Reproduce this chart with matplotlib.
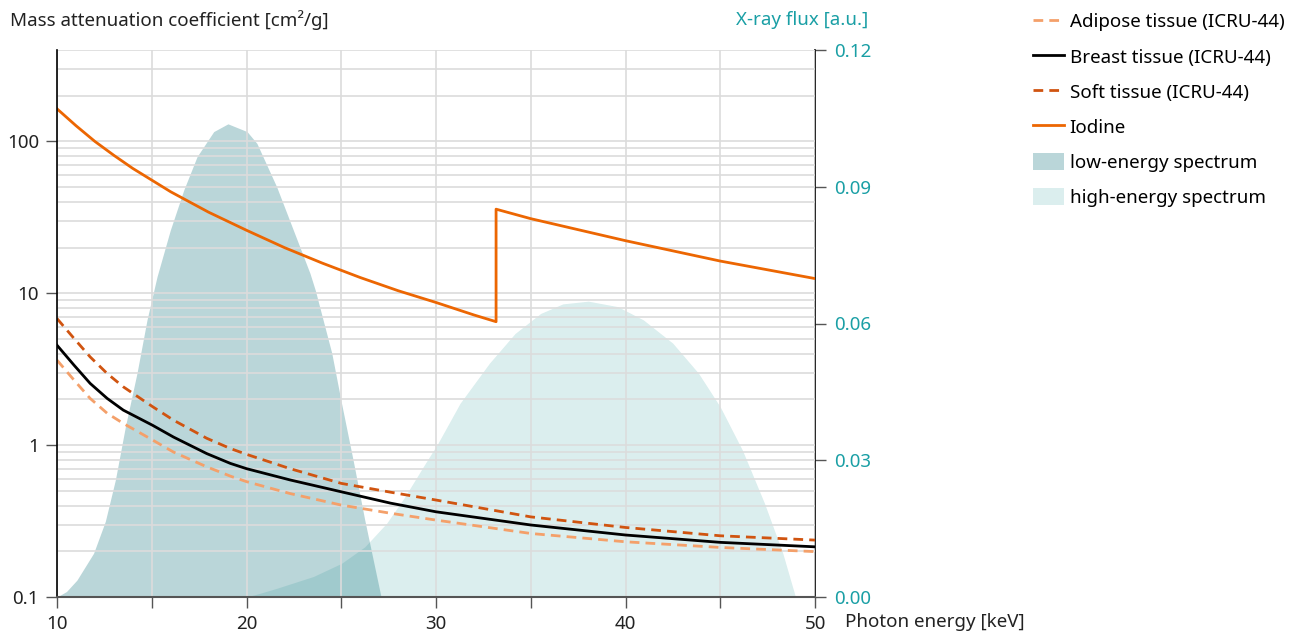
import matplotlib
matplotlib.use("Agg")
import matplotlib.pyplot as plt
from matplotlib.ticker import MultipleLocator, LogLocator, NullFormatter
import numpy as np

plt.rcParams['font.family'] = ['Noto Sans', 'DejaVu Sans']

# ---------------- data ----------------
energy_tissue = [10, 10.9, 11.75, 12.65, 13.5, 15.05, 16.15, 17.9, 19.15, 20, 22.3, 25, 27.6, 30, 35, 40, 45, 50]
adipose = [3.63, 2.68, 2.03, 1.62, 1.39, 1.08, 0.90, 0.72, 0.625, 0.575, 0.48, 0.403, 0.356, 0.321, 0.262, 0.231, 0.212, 0.199]
breast = [4.55, 3.36, 2.55, 2.03, 1.70, 1.35, 1.13, 0.88, 0.758, 0.70, 0.59, 0.493, 0.415, 0.364, 0.298, 0.256, 0.229, 0.214]
soft = [6.82, 5.04, 3.81, 2.96, 2.42, 1.79, 1.46, 1.11, 0.95, 0.87, 0.70, 0.56, 0.49, 0.435, 0.337, 0.287, 0.253, 0.237]

energy_iodine = [10, 11, 12, 13, 14, 16, 18, 20, 22, 24, 26, 28, 30, 32, 33.17, 33.17, 35, 40, 45, 50]
iodine = [164, 127, 100, 81, 66.4, 46.6, 34.2, 26.0, 20.0, 15.8, 12.7, 10.4, 8.7, 7.2, 6.5, 35.8, 31.0, 22.2, 16.3, 12.5]

energy_low = [10, 10.5, 11.05, 11.93, 12.55, 13.08, 13.61, 14.22, 14.75, 15.28, 15.98, 16.69, 17.39, 18.27,
              19.02, 20.03, 20.55, 21.59, 22.47, 23.35, 23.63, 24.5, 24.98, 25.66, 26.24, 27.1]
flux_low = [0, 0.0012, 0.0037, 0.0096, 0.0166, 0.0257, 0.0374, 0.0491, 0.0608, 0.0703, 0.0805, 0.0893, 0.0966, 0.1021,
            0.1038, 0.1021, 0.0995, 0.090, 0.0805, 0.071, 0.0673, 0.0535, 0.0432, 0.0293, 0.0169, 0]

energy_high = [20, 20.7, 21.59, 23.53, 25.02, 26.24, 27.4, 28.36, 29.33, 30.1, 31.27, 32.82, 34.17, 35.52, 36.69,
               38.04, 39.59, 40.94, 42.49, 43.85, 45.0, 46.17, 47.33, 48.3, 48.97]
flux_high = [0, 0.0008, 0.0019, 0.0045, 0.0074, 0.011, 0.0162, 0.022, 0.0286, 0.0337, 0.0425, 0.0513, 0.0578, 0.0622,
             0.0643, 0.0649, 0.0637, 0.0608, 0.0557, 0.0491, 0.0417, 0.0322, 0.0206, 0.0096, 0]

x_ticks = [10, 20, 30, 40, 50]
y_left_ticks = [0.1, 1, 10, 100]
y_left_labels = ['0.1', '1', '10', '100']
y_right_ticks = [0.0, 0.03, 0.06, 0.09, 0.12]

# ---------------- style ----------------
c_adipose = '#f4a06a'
c_breast = '#000000'
c_soft = '#d05410'
c_iodine = '#ec6602'
c_low = '#bad6d9'
c_high = '#078a8a'
c_teal = '#1a9fa5'
grid_c = '#dcdcdc'
fs = 13.5

fig = plt.figure(figsize=(13.04, 6.34), dpi=100)
ax = fig.add_axes([57/1304, 37/634, (815-57)/1304, (597-50)/634])
ax2 = ax.twinx()
ax.set_zorder(ax2.get_zorder() + 1)
ax.patch.set_visible(False)

# spectra on right axis
ax2.fill_between(energy_low, flux_low, 0, color=c_low, lw=0, label='low-energy spectrum')
ax2.fill_between(energy_high, flux_high, 0, color=c_high, alpha=0.145, lw=0, label='high-energy spectrum')
ax2.set_ylim(0, 0.12)
ax2.set_yticks(y_right_ticks)
ax2.set_yticklabels([f'{v:.2f}' for v in y_right_ticks])
ax2.tick_params(axis='y', colors='#555555', labelcolor=c_teal, labelsize=fs, length=8, width=1, pad=6)
for s in ['top', 'left', 'bottom']:
    ax2.spines[s].set_visible(False)
ax2.spines['right'].set_color('black')
ax2.spines['right'].set_linewidth(1.2)

# attenuation on left axis
ax.plot(energy_tissue, adipose, color=c_adipose, lw=2, ls=(0, (3.5, 2.2)), label='Adipose tissue (ICRU-44)')
ax.plot(energy_tissue, breast, color=c_breast, lw=2, label='Breast tissue (ICRU-44)')
ax.plot(energy_tissue, soft, color=c_soft, lw=2, ls=(0, (3.5, 2.2)), label='Soft tissue (ICRU-44)')
ax.plot(energy_iodine, iodine, color=c_iodine, lw=2, label='Iodine')

ax.set_yscale('log')
ax.set_ylim(0.1, 400)
ax.set_xlim(10, 50)
ax.set_yticks(y_left_ticks)
ax.set_yticklabels(y_left_labels)
ax.yaxis.set_minor_locator(LogLocator(base=10, subs=np.arange(2, 10)))
ax.yaxis.set_minor_formatter(NullFormatter())
ax.set_xticks(x_ticks)
ax.set_xticklabels([str(v) for v in x_ticks])
ax.xaxis.set_minor_locator(MultipleLocator(5))

ax.grid(True, which='both', color=grid_c, lw=1.2)
ax.tick_params(axis='both', which='major', length=8, width=1, colors='#555555', labelcolor='#222222', labelsize=fs, pad=5)
ax.tick_params(axis='x', which='minor', length=8, width=1, colors='#555555')
ax.tick_params(axis='y', which='minor', length=0)

ax.spines['top'].set_visible(False)
ax.spines['right'].set_visible(False)
ax.spines['left'].set_color('black')
ax.spines['left'].set_linewidth(1.2)
ax.spines['bottom'].set_color('#555555')
ax.spines['bottom'].set_linewidth(1.5)

# texts
fig.text(10/1304, 1 - 20/634, 'Mass attenuation coefficient [cm²/g]', ha='left', va='center', fontsize=fs, color='#222222')
fig.text(868/1304, 1 - 20/634, 'X-ray flux [a.u.]', ha='right', va='center', fontsize=fs, color=c_teal)
fig.text(845/1304, 1 - 622/634, 'Photon energy [keV]', ha='left', va='center', fontsize=fs, color='#222222')

h1, l1 = ax.get_legend_handles_labels()
h2, l2 = ax2.get_legend_handles_labels()
fig.legend(h1 + h2, l1 + l2, loc='upper left', bbox_to_anchor=(1027/1304, 1 - 7/634), frameon=False,
           fontsize=fs, handlelength=1.65, handleheight=1.0, handletextpad=0.33, labelspacing=0.87,
           borderaxespad=0, borderpad=0.3)

fig.savefig('out.png', dpi=100)
